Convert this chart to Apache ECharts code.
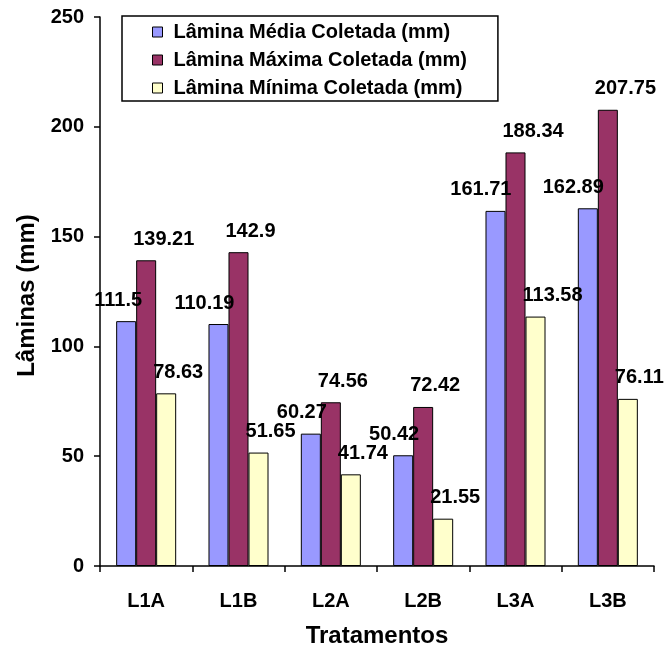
<!DOCTYPE html>
<html>
<head>
<meta charset="utf-8">
<script src="https://cdn.jsdelivr.net/npm/echarts@6/dist/echarts.min.js"></script>
<style>html,body{margin:0;padding:0;background:#fff;}#c{width:672px;height:648px;}</style>
</head>
<body>
<div id="c"></div>
<script>
const categories = ['L1A', 'L1B', 'L2A', 'L2B', 'L3A', 'L3B'];
const mediaValues = [111.5, 110.19, 60.27, 50.42, 161.71, 162.89];
const maximaValues = [139.21, 142.9, 74.56, 72.42, 188.34, 207.75];
const minimaValues = [78.63, 51.65, 41.74, 21.55, 113.58, 76.11];
const seriesNames = ['Lâmina Média Coletada (mm)', 'Lâmina Máxima Coletada (mm)', 'Lâmina Mínima Coletada (mm)'];
const yTicks = { min: 0, max: 250, interval: 50 };

const FONT = 'Liberation Sans, Arial, sans-serif';
const chart = echarts.init(document.getElementById('c'), null, { renderer: 'canvas' });

function lbl(align, dx) {
  return {
    show: true, position: 'top', distance: 11, align: align, offset: [dx, 0],
    color: '#000', fontFamily: FONT, fontWeight: 'bold', fontSize: 20
  };
}
const common = { type: 'bar', barGap: '0%', barCategoryGap: '35%' };

chart.setOption({
  animation: false,
  backgroundColor: '#fff',
  grid: { left: 100, right: 18, top: 17, bottom: 82, outerBoundsMode: 'none', containLabel: false },
  legend: {
    orient: 'vertical', left: 122, top: 16,
    padding: [6, 31, 3, 30], itemGap: 8,
    borderColor: '#000', borderWidth: 1.5,
    itemWidth: 10, itemHeight: 10,
    icon: 'rect',
    itemStyle: { borderColor: '#000', borderWidth: 1 },
    textStyle: { fontFamily: FONT, fontWeight: 'bold', fontSize: 20, color: '#000', padding: [0, 0, 0, 6] },
    data: seriesNames
  },
  xAxis: {
    type: 'category', data: categories,
    name: 'Tratamentos', nameLocation: 'middle', nameGap: 58,
    nameTextStyle: { fontFamily: FONT, fontWeight: 'bold', fontSize: 24, color: '#000' },
    axisLine: { lineStyle: { color: '#000', width: 1.5 } },
    axisTick: { show: true, length: 6, lineStyle: { color: '#000', width: 1.5 } },
    axisLabel: { margin: 25, fontFamily: FONT, fontWeight: 'bold', fontSize: 20, color: '#000' }
  },
  yAxis: {
    type: 'value', min: yTicks.min, max: yTicks.max, interval: yTicks.interval,
    name: 'Lâminas (mm)', nameLocation: 'middle', nameGap: 58, nameRotate: 90,
    nameTextStyle: { fontFamily: FONT, fontWeight: 'bold', fontSize: 24, color: '#000', padding: [0, 8, 0, 0] },
    axisLine: { show: true, lineStyle: { color: '#000', width: 1.5 } },
    axisTick: { show: true, length: 6, lineStyle: { color: '#000', width: 1.5 } },
    splitLine: { show: false },
    axisLabel: { margin: 16, fontFamily: FONT, fontWeight: 'bold', fontSize: 20, color: '#000' }
  },
  series: [
    Object.assign({}, common, {
      name: seriesNames[0], data: mediaValues,
      itemStyle: { color: '#9999FF', borderColor: '#000', borderWidth: 1 },
      label: lbl('right', 16)
    }),
    Object.assign({}, common, {
      name: seriesNames[1], data: maximaValues,
      itemStyle: { color: '#993366', borderColor: '#000', borderWidth: 1 },
      label: lbl('left', -13)
    }),
    Object.assign({}, common, {
      name: seriesNames[2], data: minimaValues,
      itemStyle: { color: '#FFFFCC', borderColor: '#000', borderWidth: 1 },
      label: lbl('left', -13)
    })
  ]
});
</script>
</body>
</html>
